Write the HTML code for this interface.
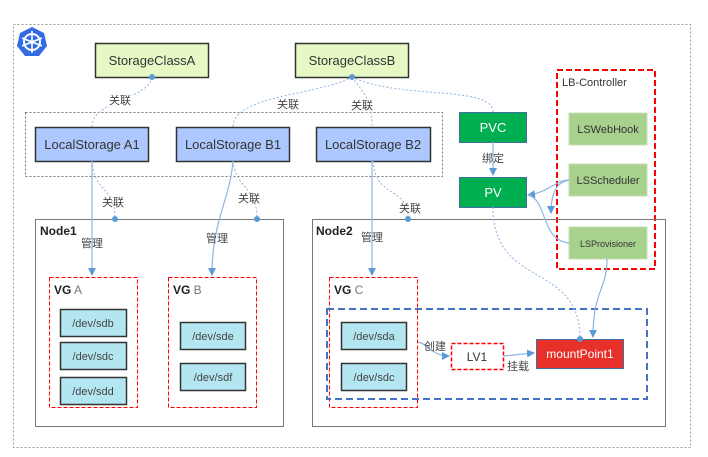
<!DOCTYPE html>
<html><head><meta charset="utf-8"><style>
body{margin:0;background:#fff}
svg{display:block;font-family:"Liberation Sans","Noto Sans CJK SC",sans-serif}
</style></head><body>
<svg width="708" height="457" viewBox="0 0 708 457" xmlns="http://www.w3.org/2000/svg">
<defs>
<marker id="ar" markerWidth="8" markerHeight="8" refX="7" refY="4" orient="auto" markerUnits="userSpaceOnUse"><path d="M0,0 L8,4 L0,8 z" fill="#5b9bd5"/></marker>
</defs>
<rect x="13.5" y="24.5" width="677" height="423" fill="none" stroke="#999" stroke-dasharray="2,2"/>
<!-- k8s icon -->
<polygon points="32,27 44,33 47,46 39,56 25,56 17,46 20,33" fill="#326ce5"/>
<circle cx="32" cy="42" r="8" fill="none" stroke="#fff" stroke-width="2"/>
<g stroke="#fff" stroke-width="1.6"><line x1="32" y1="31" x2="32" y2="53"/><line x1="22" y1="38" x2="42" y2="46"/><line x1="42" y1="38" x2="22" y2="46"/></g>
<circle cx="32" cy="42" r="2" fill="#fff"/>

<rect x="95.5" y="43.5" width="113" height="34" fill="#e6f9c4" stroke="#333" stroke-width="1.5"/>
<text x="152" y="65" font-size="13" fill="#333" text-anchor="middle">StorageClassA</text>
<rect x="295.5" y="43.5" width="113" height="34" fill="#e6f9c4" stroke="#333" stroke-width="1.5"/>
<text x="352" y="65" font-size="13" fill="#333" text-anchor="middle">StorageClassB</text>

<rect x="25.5" y="112.5" width="417" height="64" fill="none" stroke="#777" stroke-dasharray="2,2"/>
<rect x="35.5" y="127.5" width="113" height="34" fill="#adc8ff" stroke="#333" stroke-width="1.5"/>
<text x="92" y="149" font-size="13" fill="#333" text-anchor="middle">LocalStorage A1</text>
<rect x="176.5" y="127.5" width="113" height="34" fill="#adc8ff" stroke="#333" stroke-width="1.5"/>
<text x="233" y="149" font-size="13" fill="#333" text-anchor="middle">LocalStorage B1</text>
<rect x="316.5" y="127.5" width="114" height="34" fill="#adc8ff" stroke="#333" stroke-width="1.5"/>
<text x="373" y="149" font-size="13" fill="#333" text-anchor="middle">LocalStorage B2</text>

<rect x="459.5" y="112.5" width="67" height="30" fill="#00b050" stroke="#41719c"/>
<text x="493" y="132" font-size="13" fill="#fff" text-anchor="middle">PVC</text>
<rect x="459.5" y="177.5" width="67" height="30" fill="#00b050" stroke="#41719c"/>
<text x="493" y="197" font-size="13" fill="#fff" text-anchor="middle">PV</text>

<rect x="557" y="70" width="98" height="199" fill="none" stroke="#f00" stroke-width="2" stroke-dasharray="6,3"/>
<text x="562" y="86" font-size="11" fill="#333">LB-Controller</text>
<rect x="569" y="113" width="78" height="32" fill="#a9d18e" stroke="#c5e0b4"/>
<text x="608" y="133" font-size="11" fill="#333" text-anchor="middle">LSWebHook</text>
<rect x="569" y="164" width="78" height="32" fill="#a9d18e" stroke="#c5e0b4"/>
<text x="608" y="184" font-size="11" fill="#333" text-anchor="middle">LSScheduler</text>
<rect x="569" y="227" width="78" height="32" fill="#a9d18e" stroke="#c5e0b4"/>
<text x="608" y="247" font-size="9" fill="#333" text-anchor="middle">LSProvisioner</text>

<rect x="35.5" y="219.5" width="248" height="207" fill="none" stroke="#777"/>
<text x="40" y="235" font-size="12" font-weight="bold" fill="#222">Node1</text>
<rect x="312.5" y="219.5" width="353" height="207" fill="none" stroke="#777"/>
<text x="316" y="235" font-size="12" font-weight="bold" fill="#222">Node2</text>

<g fill="none" stroke="#f00" stroke-dasharray="4,2">
<rect x="49.5" y="277.5" width="88" height="130"/>
<rect x="168.5" y="277.5" width="88" height="130"/>
<rect x="329.5" y="277.5" width="88" height="130"/>
</g>
<text x="54" y="294" font-size="12" fill="#222"><tspan font-weight="bold">VG</tspan><tspan fill="#777"> A</tspan></text>
<text x="173" y="294" font-size="12" fill="#222"><tspan font-weight="bold">VG</tspan><tspan fill="#777"> B</tspan></text>
<text x="334" y="294" font-size="12" fill="#222"><tspan font-weight="bold">VG</tspan><tspan fill="#777"> C</tspan></text>
<rect x="327" y="309" width="320" height="90" fill="none" stroke="#4472c4" stroke-width="2" stroke-dasharray="7,4"/>

<g fill="#b4e6f2" stroke="#333" stroke-width="1.5">
<rect x="60.5" y="309.5" width="66" height="27"/><rect x="60.5" y="342.5" width="66" height="27"/><rect x="60.5" y="377.5" width="66" height="27"/>
<rect x="180.5" y="322.5" width="65" height="27"/><rect x="180.5" y="363.5" width="65" height="27"/>
<rect x="341.5" y="322.5" width="65" height="27"/><rect x="341.5" y="363.5" width="65" height="27"/>
</g>
<g font-size="11" fill="#444" text-anchor="middle">
<text x="93" y="327">/dev/sdb</text><text x="93" y="360">/dev/sdc</text><text x="93" y="395">/dev/sdd</text>
<text x="213" y="340">/dev/sde</text><text x="213" y="381">/dev/sdf</text>
<text x="374" y="340">/dev/sda</text><text x="374" y="381">/dev/sdc</text>
</g>
<rect x="451.5" y="343.5" width="52" height="26" fill="#fff" stroke="#f00" stroke-width="1.5" stroke-dasharray="4,2"/>
<text x="477" y="361" font-size="12" fill="#333" text-anchor="middle">LV1</text>
<rect x="536.5" y="339.5" width="87" height="29" fill="#e8302a" stroke="#41719c"/>
<text x="580" y="358" font-size="12" fill="#fff" text-anchor="middle">mountPoint1</text>

<!-- solid connectors -->
<g fill="none" stroke="#8fb4e3" stroke-width="1.2">
<path d="M92,161 L92,275" marker-end="url(#ar)"/>
<path d="M233,161 C230,200 212,220 212,275" marker-end="url(#ar)"/>
<path d="M372,161 L372,275" marker-end="url(#ar)"/>
<path d="M493,142 L493,175" marker-end="url(#ar)"/>
<path d="M569,180 C555,180 550,192 528,195" marker-end="url(#ar)"/>
<path d="M569,180 C556,182 551,195 551,213" marker-end="url(#ar)"/>
<path d="M569,243 C540,240 548,200 528,195"/>
<path d="M607,259 C607,290 593,290 593,337" marker-end="url(#ar)"/>
<path d="M418,342 C430,345 432,356 449,356" marker-end="url(#ar)"/>
<path d="M504,356 C515,355 520,354 534,353" marker-end="url(#ar)"/>
</g>
<!-- dotted connectors -->
<g fill="none" stroke="#8fb4e3" stroke-width="1" stroke-dasharray="2,2">
<path d="M152,77 C148,100 92,100 92,127"/>
<path d="M352,77 C320,95 233,95 233,127"/>
<path d="M352,77 C365,95 372,100 372,127"/>
<path d="M352,77 C400,100 493,85 493,112"/>
<path d="M92,161 C95,195 115,185 115,219"/>
<path d="M233,161 C236,190 257,185 257,219"/>
<path d="M373,161 C376,200 408,185 408,219"/>
<path d="M493,207 C493,290 580,260 580,339"/>
</g>
<g fill="#5b9bd5">
<circle cx="152" cy="77" r="3"/><circle cx="352" cy="77" r="3"/>
<circle cx="115" cy="219" r="3"/><circle cx="257" cy="219" r="3"/><circle cx="408" cy="219" r="3"/>
<circle cx="580" cy="339" r="3"/>
</g>
<g font-size="11" fill="#444" text-anchor="middle">
<text x="120" y="104" fill="#444" stroke="#fff" stroke-width="3" paint-order="stroke">关联</text>
<text x="288" y="108" stroke="#fff" stroke-width="3" paint-order="stroke">关联</text>
<text x="362" y="109" stroke="#fff" stroke-width="3" paint-order="stroke">关联</text>
<text x="113" y="206">关联</text><text x="249" y="202">关联</text><text x="410" y="212">关联</text>
<text x="92" y="247">管理</text><text x="217" y="242">管理</text><text x="372" y="241">管理</text>
<text x="493" y="162">绑定</text><text x="435" y="350">创建</text><text x="518" y="370">挂载</text>
</g>
</svg>
</body></html>
